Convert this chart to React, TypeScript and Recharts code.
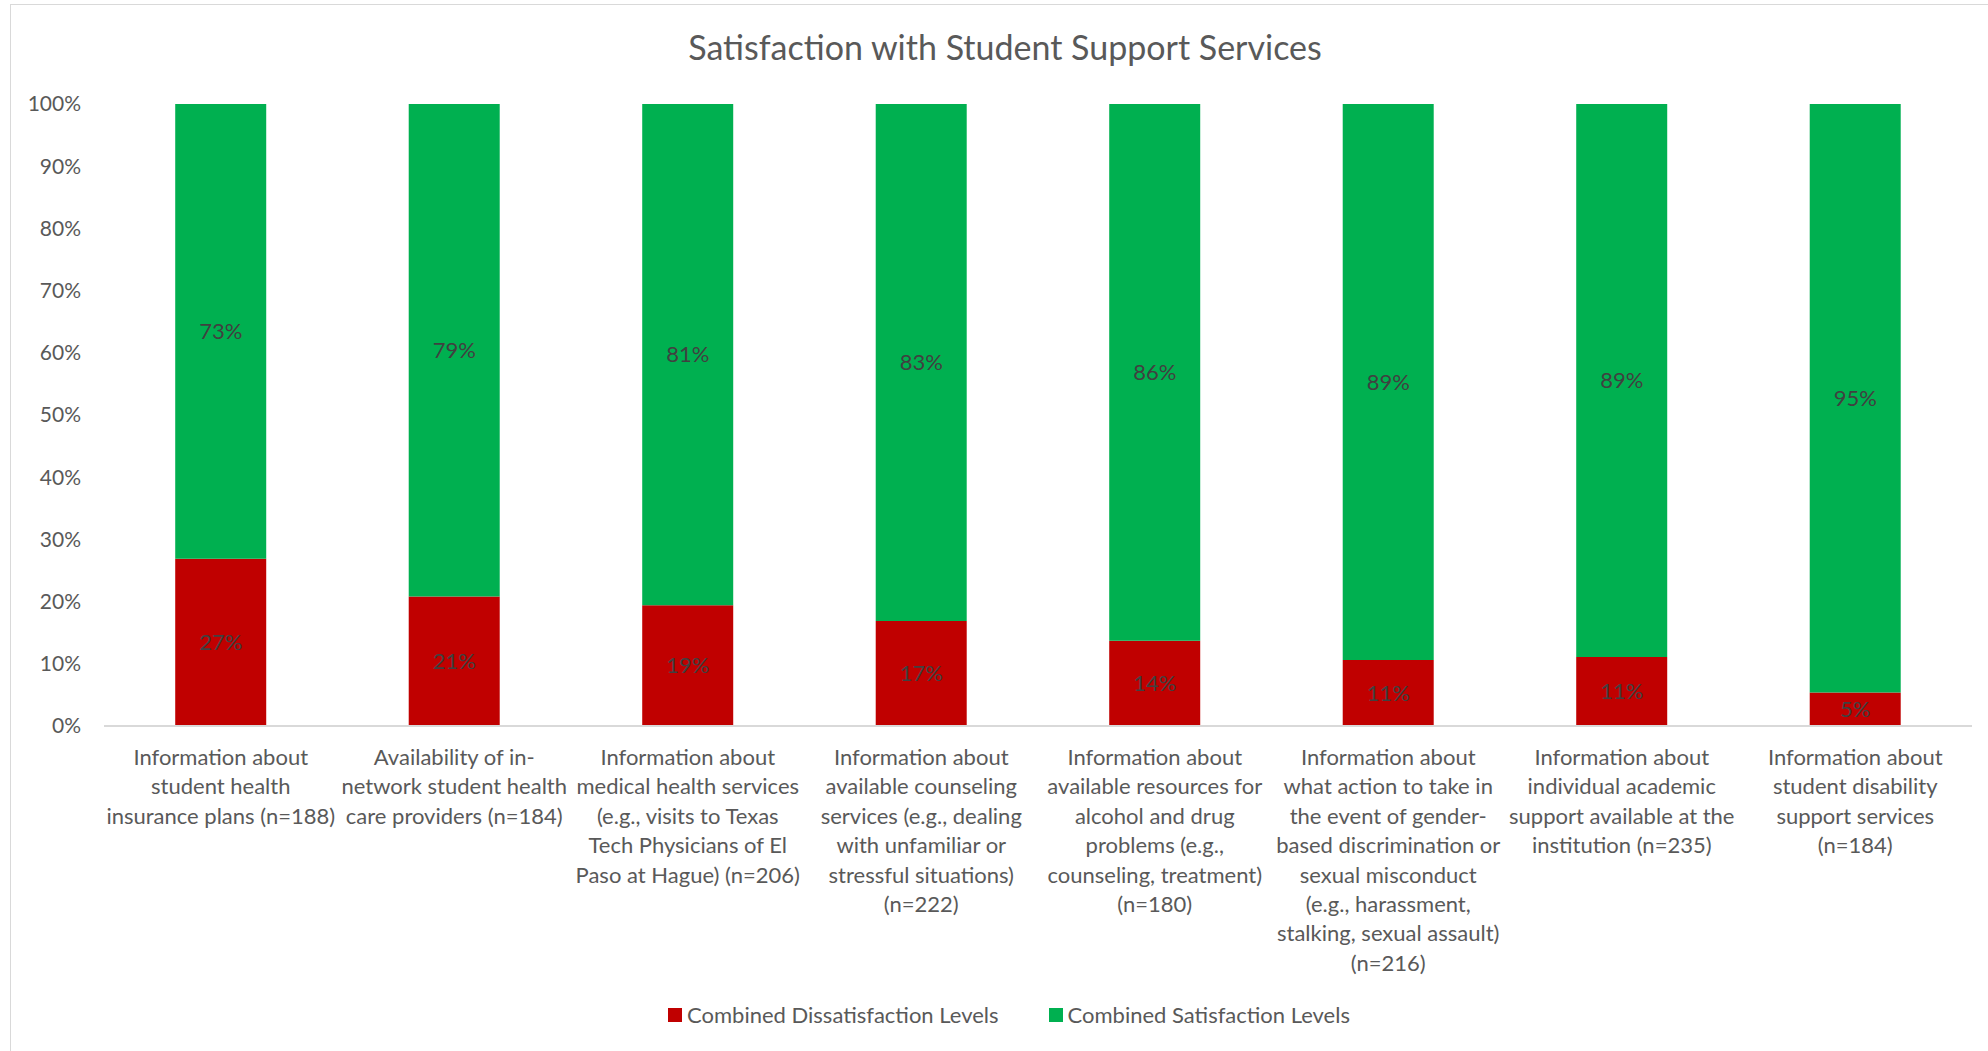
import React from 'react';
import { BarChart, Bar, XAxis, YAxis, LabelList } from 'recharts';

// category labels, lines split the way the original wraps them
const categories = [
  'Information about\nstudent health\ninsurance plans (n=188)',
  'Availability of in-\nnetwork student health\ncare providers (n=184)',
  'Information about\nmedical health services\n(e.g., visits to Texas\nTech Physicians of El\nPaso at Hague) (n=206)',
  'Information about\navailable counseling\nservices (e.g., dealing\nwith unfamiliar or\nstressful situations)\n(n=222)',
  'Information about\navailable resources for\nalcohol and drug\nproblems (e.g.,\ncounseling, treatment)\n(n=180)',
  'Information about\nwhat action to take in\nthe event of gender-\nbased discrimination or\nsexual misconduct\n(e.g., harassment,\nstalking, sexual assault)\n(n=216)',
  'Information about\nindividual academic\nsupport available at the\ninstitution (n=235)',
  'Information about\nstudent disability\nsupport services\n(n=184)',
];

const dissatisfied = [26.9, 20.8, 19.4, 16.9, 13.7, 10.6, 11.1, 5.4];
const satisfied = [73.1, 79.2, 80.6, 83.1, 86.3, 89.4, 88.9, 94.6];

const yTicks = [0, 10, 20, 30, 40, 50, 60, 70, 80, 90, 100];

const data = categories.map((name, i) => ({
  name,
  dissatisfied: dissatisfied[i],
  satisfied: satisfied[i],
}));

const FONT = 'Lato, "Open Sans", sans-serif';
const RED = '#C00000';
const GREEN = '#00B050';
const TEXT = '#595959';

const CategoryTick = (props: any) => {
  const { x, y, payload } = props;
  const lines = String(payload.value).split('\n');
  return (
    <text x={x} y={y} textAnchor="middle" fill={TEXT} fontSize={22} fontFamily={FONT}>
      {lines.map((line, i) => (
        <tspan key={i} x={x} dy={i === 0 ? 37 : 29.4}>
          {line}
        </tspan>
      ))}
    </text>
  );
};

const pct = (v: any) => `${Math.round(Number(v))}%`;

export default function App() {
  return (
    <div style={{ position: 'absolute', left: 0, top: 0, width: 1988, height: 1051, background: '#fff', overflow: 'hidden' }}>
      <div
        style={{
          position: 'absolute', left: 10, top: 4, width: 2000, height: 1060,
          border: '1.5px solid #d9d9d9', boxSizing: 'border-box',
        }}
      />
      <div
        style={{
          position: 'absolute', left: 10, width: 1990, top: 26, textAlign: 'center',
          fontFamily: FONT, fontSize: 34, color: TEXT,
        }}
      >
        Satisfaction with Student Support Services
      </div>
      <div style={{ position: 'absolute', left: 0, top: 0 }}>
        <BarChart
          width={1988}
          height={1051}
          data={data}
          margin={{ top: 104, right: 16, bottom: 125, left: 34 }}
          barCategoryGap="30.5%"
        >
          <XAxis
            dataKey="name"
            interval={0}
            tickLine={false}
            tickSize={0}
            axisLine={{ stroke: '#d9d9d9', strokeWidth: 2 }}
            tick={<CategoryTick />}
            height={200}
          />
          <YAxis
            type="number"
            domain={[0, 100]}
            ticks={yTicks}
            tickFormatter={(v) => `${v}%`}
            axisLine={false}
            tickLine={false}
            tickSize={0}
            tickMargin={23}
            width={70}
            tick={{ fill: TEXT, fontSize: 21, fontFamily: FONT }}
          />
          <Bar dataKey="dissatisfied" stackId="a" fill={RED} isAnimationActive={false} name="Combined Dissatisfaction Levels">
            <LabelList dataKey="dissatisfied" position="center" formatter={pct} fill="#404040" fontSize={22} fontFamily={FONT} />
          </Bar>
          <Bar dataKey="satisfied" stackId="a" fill={GREEN} isAnimationActive={false} name="Combined Satisfaction Levels">
            <LabelList dataKey="satisfied" position="center" formatter={pct} fill="#404040" fontSize={22} fontFamily={FONT} />
          </Bar>
        </BarChart>
      </div>
      <div
        style={{
          position: 'absolute', left: 14, width: 1990, top: 1001, display: 'flex', justifyContent: 'center',
          fontFamily: FONT, fontSize: 22, color: TEXT,
        }}
      >
        <div style={{ display: 'flex', alignItems: 'center', marginRight: 50 }}>
          <span style={{ width: 14, height: 14, background: RED, display: 'inline-block', marginRight: 5 }} />
          Combined Dissatisfaction Levels
        </div>
        <div style={{ display: 'flex', alignItems: 'center' }}>
          <span style={{ width: 14, height: 14, background: GREEN, display: 'inline-block', marginRight: 5 }} />
          Combined Satisfaction Levels
        </div>
      </div>
    </div>
  );
}
